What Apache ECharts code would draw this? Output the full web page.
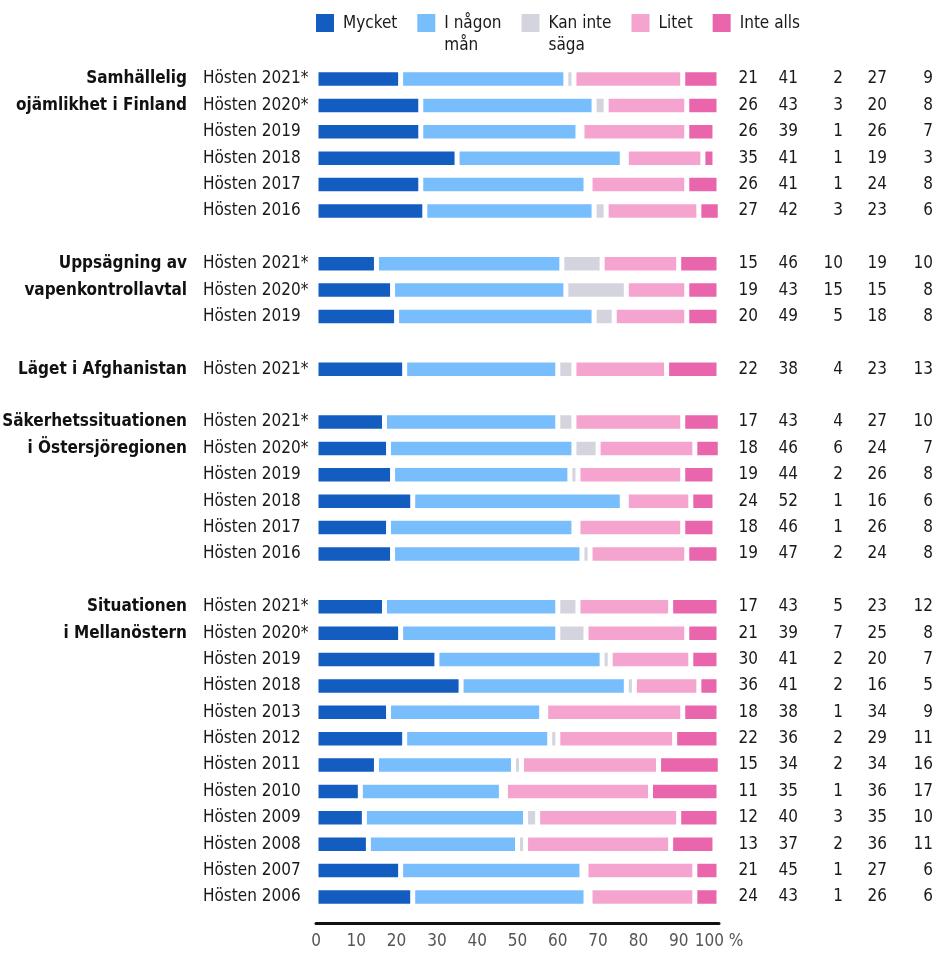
<!DOCTYPE html>
<html>
<head>
<meta charset="utf-8">
<script src="https://cdn.jsdelivr.net/npm/echarts@6/dist/echarts.min.js"></script>
<style>html,body{margin:0;padding:0;background:#fff}#c{width:936px;height:953px}</style>
</head>
<body>
<div id="c"></div>
<script>
var FONT = "'Liberation Sans Narrow','Arial Narrow','DejaVu Sans Condensed',sans-serif";
var FS = 17;

var seriesNames = ['Mycket', 'I någon mån', 'Kan inte säga', 'Litet', 'Inte alls'];
var legendLabels = ['Mycket\n ', 'I någon\nmån', 'Kan inte\nsäga', 'Litet\n ', 'Inte alls\n '];
var colors = ['#135cc0', '#78bdfc', '#d4d4de', '#f4a4cf', '#e966ac'];

var rowLabels = [
  'Hösten 2021*', 'Hösten 2020*', 'Hösten 2019', 'Hösten 2018', 'Hösten 2017', 'Hösten 2016', '',
  'Hösten 2021*', 'Hösten 2020*', 'Hösten 2019', '',
  'Hösten 2021*', '',
  'Hösten 2021*', 'Hösten 2020*', 'Hösten 2019', 'Hösten 2018', 'Hösten 2017', 'Hösten 2016', '',
  'Hösten 2021*', 'Hösten 2020*', 'Hösten 2019', 'Hösten 2018', 'Hösten 2013', 'Hösten 2012',
  'Hösten 2011', 'Hösten 2010', 'Hösten 2009', 'Hösten 2008', 'Hösten 2007', 'Hösten 2006'
];

var groupLabels = [
  'Samhällelig', 'ojämlikhet i Finland', '', '', '', '', '',
  'Uppsägning av', 'vapenkontrollavtal', '', '',
  'Läget i Afghanistan', '',
  'Säkerhetssituationen', 'i Östersjöregionen', '', '', '', '', '',
  'Situationen', 'i Mellanöstern', '', '', '', '', '', '', '', '', '', ''
];

var mycket = [21, 26, 26, 35, 26, 27, null, 15, 19, 20, null, 22, null, 17, 18, 19, 24, 18, 19, null,
  17, 21, 30, 36, 18, 22, 15, 11, 12, 13, 21, 24];
var nagonMan = [41, 43, 39, 41, 41, 42, null, 46, 43, 49, null, 38, null, 43, 46, 44, 52, 46, 47, null,
  43, 39, 41, 41, 38, 36, 34, 35, 40, 37, 45, 43];
var kanInte = [2, 3, 1, 1, 1, 3, null, 10, 15, 5, null, 4, null, 4, 6, 2, 1, 1, 2, null,
  5, 7, 2, 2, 1, 2, 2, 1, 3, 2, 1, 1];
var litet = [27, 20, 26, 19, 24, 23, null, 19, 15, 18, null, 23, null, 27, 24, 26, 16, 26, 24, null,
  23, 25, 20, 16, 34, 29, 34, 36, 35, 36, 27, 26];
var inteAlls = [9, 8, 7, 3, 8, 6, null, 10, 8, 8, null, 13, null, 10, 7, 8, 6, 8, 8, null,
  12, 8, 7, 5, 9, 11, 16, 17, 10, 11, 6, 6];

var seriesData = [mycket, nagonMan, kanInte, litet, inteAlls];
var xTicks = [0, 10, 20, 30, 40, 50, 60, 70, 80, 90, 100];

var chart = echarts.init(document.getElementById('c'));

function valueLabel(v, i) {
  if (mycket[i] == null) return '';
  return '{a|' + mycket[i] + '}{b|' + nagonMan[i] + '}{c|' + kanInte[i] + '}{d|' + litet[i] + '}{e|' + inteAlls[i] + '}';
}
var numStyle = function (w) { return { width: w, align: 'right', fontSize: FS, fontFamily: FONT, color: '#1a1a1a' }; };

var legendMap = {};
seriesNames.forEach(function (n, i) { legendMap[n] = legendLabels[i]; });

chart.setOption({
  animation: false,
  backgroundColor: '#fff',
  color: colors,
  textStyle: { fontFamily: FONT },
  legend: {
    left: 314, top: 12, padding: 0,
    itemWidth: 20, itemHeight: 44, itemGap: 18,
    icon: 'path://M0,0H20V20H0Z M0,44',
    formatter: function (n) { return legendMap[n]; },
    textStyle: { fontSize: FS, lineHeight: 22, color: '#1a1a1a', fontFamily: FONT, padding: [0, 0, 0, 3] },
    data: seriesNames
  },
  grid: { left: 316, right: 217, top: 65.8, bottom: 42.8, containLabel: false, outerBoundsMode: 'none' },
  xAxis: {
    type: 'value', min: 0, max: 100, interval: 10, position: 'bottom', offset: 13,
    axisLine: { show: true, lineStyle: { color: '#111', width: 3 } },
    axisTick: { show: false }, splitLine: { show: false },
    axisLabel: {
      fontSize: FS, color: '#555', fontFamily: FONT, margin: 10,
      formatter: function (v) { return v === 100 ? '100 %' : String(v); },
      customValues: xTicks
    }
  },
  yAxis: [
    {
      type: 'category', inverse: true, data: rowLabels,
      axisLine: { show: false }, axisTick: { show: false },
      axisLabel: { align: 'left', margin: 113, fontSize: FS, color: '#1a1a1a', fontFamily: FONT, interval: 0 }
    },
    {
      type: 'category', inverse: true, data: rowLabels, position: 'left',
      axisLine: { show: false }, axisTick: { show: false },
      axisLabel: {
        align: 'right', margin: 129, fontSize: FS, fontWeight: 'bold', color: '#111', fontFamily: FONT, interval: 0,
        formatter: function (v, i) { return groupLabels[i]; }
      }
    },
    {
      type: 'category', inverse: true, data: rowLabels, position: 'right',
      axisLine: { show: false }, axisTick: { show: false },
      axisLabel: {
        align: 'left', margin: 0, interval: 0, fontSize: FS, fontFamily: FONT, color: '#1a1a1a',
        formatter: valueLabel,
        rich: { a: numStyle(39), b: numStyle(40), c: numStyle(45), d: numStyle(44), e: numStyle(46) }
      }
    }
  ],
  series: seriesNames.map(function (n, k) {
    return {
      name: n, type: 'bar', stack: 'total', yAxisIndex: 0, barWidth: 18.5,
      itemStyle: { color: colors[k], borderColor: '#fff', borderWidth: 2.5 },
      emphasis: { disabled: true },
      data: seriesData[k].map(function (v) { return v == null ? '-' : v; })
    };
  })
});
</script>
</body>
</html>
